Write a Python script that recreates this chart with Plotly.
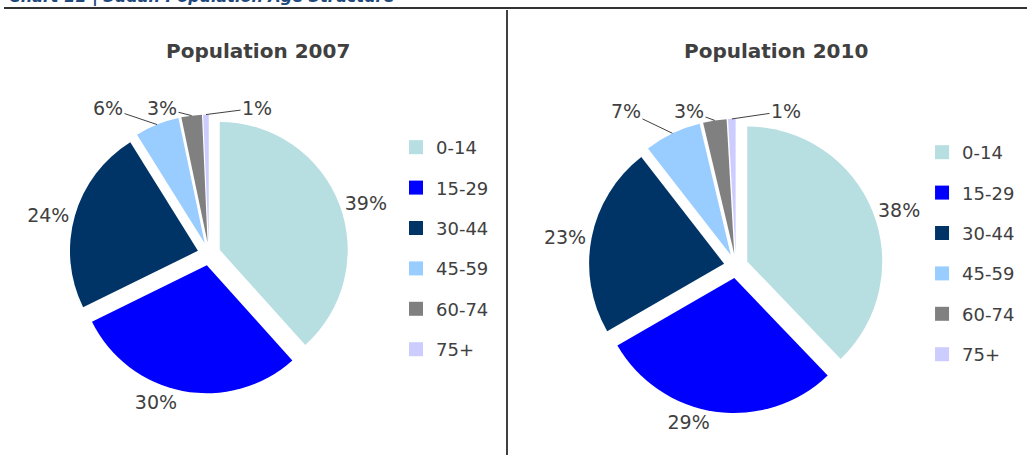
import math
import plotly.graph_objects as go

# age groups and shares (%)
groups = ["0-14", "15-29", "30-44", "45-59", "60-74", "75+"]
share_2007 = [38.5, 29.5, 23.5, 5.6, 2.6, 0.7]
share_2010 = [37.8, 28.8, 22.8, 6.8, 2.8, 0.9]
colors = ["#B7DEE1", "#0000FF", "#003366", "#99CCFF", "#808080", "#CCCCFF"]

W, H = 1027, 455
TXT = "#404040"
FONT = "DejaVu Sans"
PULL = 0.09

# pie boxes (paper fractions) and where the small-slice labels sit (pixels)
charts = [
    ("2007", share_2007, [0.0677, 0.3393], [0.1352, 0.7484], [(108, 108), (162, 108), (257, 108)]),
    ("2010", share_2010, [0.5734, 0.8599], [0.0920, 0.7388], [(626, 111), (689, 111), (786, 111)]),
]


def slice_edges(vals, dx, dy):
    # outer mid point of every pulled slice, same geometry plotly uses
    w, h = W * (dx[1] - dx[0]), H * (dy[1] - dy[0])
    r = min(w, h) / 2 / (1 + PULL)
    cx, cy = W * (dx[0] + dx[1]) / 2, H * (1 - (dy[0] + dy[1]) / 2)
    tot, cum, pts = sum(vals), 0, []
    for v in vals:
        a = math.radians(360 * (cum + v / 2) / tot)
        cum += v
        pts.append((cx + r * (1 + PULL) * math.sin(a), cy - r * (1 + PULL) * math.cos(a)))
    return pts


fig = go.Figure()
notes = []
for yr, vals, dx, dy, spots in charts:
    fig.add_trace(go.Pie(
        labels=groups, values=vals, sort=False, direction="clockwise", rotation=0,
        pull=PULL, marker=dict(colors=colors, line=dict(width=0)),
        texttemplate="%{value:.0f}%", textposition=["outside"] * 3 + ["none"] * 3,
        outsidetextfont=dict(family=FONT, size=19, color=TXT),
        domain=dict(x=dx, y=dy), showlegend=False, hoverinfo="label+percent",
    ))
    # small slices: labels in a row above the pie with leader lines
    edges = slice_edges(vals, dx, dy)
    for i, (lx, ly) in zip(range(3, 6), spots):
        notes.append(dict(
            text=f"{vals[i]:.0f}%", x=edges[i][0], y=edges[i][1], ax=lx, ay=ly,
            xref="x", yref="y", axref="x", ayref="y", showarrow=True, arrowhead=0,
            arrowwidth=1, arrowcolor=TXT, standoff=0, font=dict(family=FONT, size=19, color=TXT),
        ))
    notes.append(dict(text=f"<b>Population {yr}</b>", x=(258 if yr == "2007" else 776), y=51,
                      xref="x", yref="y", showarrow=False, font=dict(family=FONT, size=20, color=TXT)))

# legend entries (one per age group, per chart) so the row spacing can be set
for leg, yr in [("legend", "2007"), ("legend2", "2010")]:
    for g, c in zip(groups, colors):
        fig.add_trace(go.Scatter(
            x=[None], y=[None], mode="markers", name=g, legend=leg, hoverinfo="skip",
            legendgroup=yr + g, marker=dict(symbol="square", size=14, color=c, line=dict(width=0)),
        ))

leg_style = dict(font=dict(family=FONT, size=18, color=TXT), traceorder="grouped",
                 tracegroupgap=14, xanchor="left", yanchor="top", bgcolor="rgba(0,0,0,0)")

# chart header, mostly cut off by the top edge as in the source
notes.append(dict(text="<b><i>Chart 11 | Sudan Population Age Structure</i></b>", x=7, y=9,
                  xref="x", yref="y", xanchor="left", yanchor="bottom", showarrow=False,
                  font=dict(family=FONT, size=16, color="#1F497D")))

fig.update_layout(
    width=W, height=H,
    margin=dict(l=0, r=0, t=0, b=0, autoexpand=False),
    paper_bgcolor="white", plot_bgcolor="white",
    xaxis=dict(visible=False, range=[0, W], fixedrange=True),
    yaxis=dict(visible=False, range=[H, 0], fixedrange=True),
    legend=dict(x=0.3856, y=0.7165, **leg_style),
    legend2=dict(x=0.8978, y=0.7055, **leg_style),
    annotations=notes,
    shapes=[
        dict(type="line", xref="x", yref="y", x0=4, x1=W, y0=8, y1=8, line=dict(color="#333333", width=2)),
        dict(type="line", xref="x", yref="y", x0=507, x1=507, y0=10, y1=H, line=dict(color="#404040", width=2)),
    ],
)

fig.write_html(
    "out.html",
    config={"displayModeBar": False},
    post_script="document.body.style.margin='0';"
                "document.body.style.overflow='hidden';"
                "document.documentElement.style.overflow='hidden';",
)
